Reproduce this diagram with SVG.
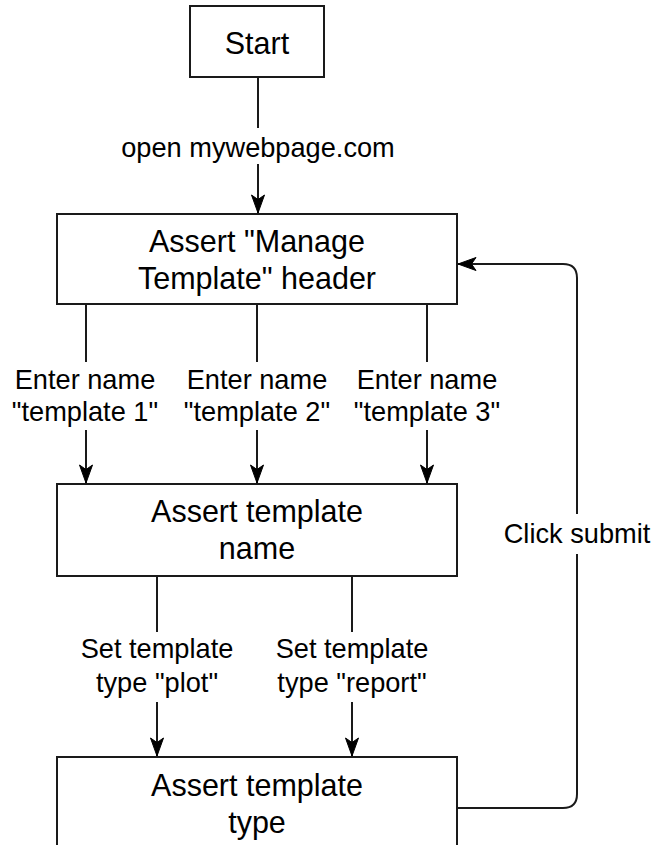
<svg xmlns="http://www.w3.org/2000/svg" width="655" height="845" viewBox="0 0 655 845">
  <style>
    .box { fill: #ffffff; stroke: #1a1a1a; stroke-width: 2; }
    .edge { fill: none; stroke: #1a1a1a; stroke-width: 2; }
    .node-text { font-family: "Liberation Sans", Arial, sans-serif; font-size: 30.5px; fill: #000000; text-anchor: middle; }
    .label-text { font-family: "Liberation Sans", Arial, sans-serif; font-size: 27.2px; fill: #000000; text-anchor: middle; }
    .label-bg { fill: #ffffff; }
  </style>
  <defs>
    <marker id="arrow" viewBox="0 0 20 14" refX="19" refY="7" markerWidth="20" markerHeight="14" markerUnits="userSpaceOnUse" orient="auto">
      <path d="M19,7 L1,0.5 L5.5,7 L1,13.5 Z" fill="#000000" stroke="#000000" stroke-width="1"/>
    </marker>
  </defs>

  <!-- connectors -->
  <g id="connectors">
    <path class="edge" d="M258,77 V213" marker-end="url(#arrow)"/>
    <path class="edge" d="M86,304 V483" marker-end="url(#arrow)"/>
    <path class="edge" d="M257,304 V483" marker-end="url(#arrow)"/>
    <path class="edge" d="M427,304 V483" marker-end="url(#arrow)"/>
    <path class="edge" d="M157,576 V756" marker-end="url(#arrow)"/>
    <path class="edge" d="M352,576 V756" marker-end="url(#arrow)"/>
    <path class="edge" d="M457,808 H563 Q577,808 577,794 V278 Q577,264 563,264 H458" marker-end="url(#arrow)"/>

    <!-- edge labels -->
    <rect class="label-bg" x="118" y="128" width="280" height="36"/>
    <text class="label-text" x="258" y="157">open mywebpage.com</text>

    <rect class="label-bg" x="10" y="362" width="150" height="68"/>
    <text class="label-text" x="85" y="389">Enter name</text>
    <text class="label-text" x="85" y="421">"template 1"</text>

    <rect class="label-bg" x="182" y="362" width="150" height="68"/>
    <text class="label-text" x="257" y="389">Enter name</text>
    <text class="label-text" x="257" y="421">"template 2"</text>

    <rect class="label-bg" x="352" y="362" width="150" height="68"/>
    <text class="label-text" x="427" y="389">Enter name</text>
    <text class="label-text" x="427" y="421">"template 3"</text>

    <rect class="label-bg" x="78" y="632" width="158" height="70"/>
    <text class="label-text" x="157" y="658">Set template</text>
    <text class="label-text" x="157" y="692">type "plot"</text>

    <rect class="label-bg" x="272" y="632" width="160" height="70"/>
    <text class="label-text" x="352" y="658">Set template</text>
    <text class="label-text" x="352" y="692">type "report"</text>

    <rect class="label-bg" x="502" y="514" width="150" height="40"/>
    <text class="label-text" x="577" y="543">Click submit</text>
  </g>

  <!-- nodes -->
  <g id="start">
    <rect class="box" x="190" y="6" width="134" height="71"/>
    <text class="node-text" x="257" y="54">Start</text>
  </g>

  <g id="assert-header">
    <rect class="box" x="57" y="214" width="400" height="90"/>
    <text class="node-text" x="257" y="252">Assert "Manage</text>
    <text class="node-text" x="257" y="289">Template" header</text>
  </g>

  <g id="assert-name">
    <rect class="box" x="57" y="484" width="400" height="92"/>
    <text class="node-text" x="257" y="522">Assert template</text>
    <text class="node-text" x="257" y="559">name</text>
  </g>

  <g id="assert-type">
    <rect class="box" x="57" y="757" width="400" height="92"/>
    <text class="node-text" x="257" y="796">Assert template</text>
    <text class="node-text" x="257" y="833">type</text>
  </g>
</svg>
